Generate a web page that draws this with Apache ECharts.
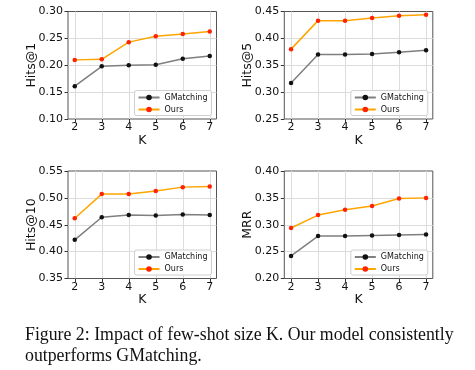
<!DOCTYPE html>
<html><head><meta charset="utf-8">
<script src="https://cdn.jsdelivr.net/npm/echarts@6/dist/echarts.min.js"></script>
<style>html,body{margin:0;padding:0;background:#fff}#c{width:475px;height:370px}</style>
</head><body><div id="c"></div>
<script>
const K = [2, 3, 4, 5, 6, 7];
const seriesNames = ['GMatching', 'Ours'];
const metricNames = ['Hits@1', 'Hits@5', 'Hits@10', 'MRR'];
const yMins = [0.10, 0.25, 0.35, 0.20];
const yMaxs = [0.30, 0.45, 0.55, 0.40];
const yStep = 0.05;
const gmHits1 = [0.161, 0.198, 0.200, 0.201, 0.212, 0.217];
const oursHits1 = [0.210, 0.211, 0.243, 0.254, 0.258, 0.263];
const gmHits5 = [0.317, 0.370, 0.370, 0.371, 0.374, 0.378];
const oursHits5 = [0.380, 0.433, 0.433, 0.438, 0.442, 0.444];
const gmHits10 = [0.422, 0.464, 0.468, 0.467, 0.469, 0.468];
const oursHits10 = [0.462, 0.507, 0.507, 0.513, 0.520, 0.521];
const gmMRR = [0.242, 0.279, 0.279, 0.280, 0.281, 0.282];
const oursMRR = [0.294, 0.318, 0.328, 0.335, 0.349, 0.350];
const captionLine1 = 'Figure 2: Impact of few-shot size K. Our model consistently';
const captionLine2 = 'outperforms GMatching.';

const gmData = [gmHits1, gmHits5, gmHits10, gmMRR];
const oursData = [oursHits1, oursHits5, oursHits10, oursMRR];

// layout
const frames = [
  {left: 68, top: 11.5},
  {left: 284.3, top: 11.5},
  {left: 68, top: 171},
  {left: 284.3, top: 171}
];
const FW = 148.5, FH = 107.5, PAD = 6.75;
const font = 'DejaVu Sans';
const txt = '#111';
const gridC = '#dcdcdc';

const grid = [], xAxis = [], yAxis = [], series = [], legend = [];
frames.forEach((f, i) => {
  grid.push({left: f.left, top: f.top, width: FW, height: FH, show: true,
    borderColor: '#555', borderWidth: 1, backgroundColor: '#fff', z: 0});
  xAxis.push({gridIndex: i, type: 'value', min: 0, max: 1, show: false});
  yAxis.push({gridIndex: i, type: 'value', min: yMins[i], max: yMaxs[i], interval: yStep,
    name: metricNames[i], nameLocation: 'middle', nameGap: 30, nameRotate: 90,
    nameMoveOverlap: false,
    nameTextStyle: {fontFamily: font, fontSize: 12.5, color: txt},
    axisLine: {show: false},
    axisTick: {show: true, inside: false, length: 3.5, lineStyle: {color: '#333'}},
    axisLabel: {fontFamily: font, fontSize: 11, color: txt, margin: 5,
      formatter: v => v.toFixed(2)},
    splitLine: {show: true, showMinLine: false, showMaxLine: false,
      lineStyle: {color: gridC, width: 1}}
  });
});
frames.forEach((f, i) => {
  const gi = 4 + i;
  grid.push({left: f.left + PAD, top: f.top, width: FW - 2 * PAD, height: FH, show: false});
  xAxis.push({gridIndex: gi, type: 'value', min: 2, max: 7, interval: 1,
    name: 'K', nameLocation: 'middle', nameGap: 15, nameMoveOverlap: false,
    nameTextStyle: {fontFamily: font, fontSize: 12.5, color: txt},
    axisLine: {show: false},
    axisTick: {show: true, inside: false, length: 3.5, lineStyle: {color: '#333'}},
    axisLabel: {fontFamily: font, fontSize: 11, color: txt, margin: 3},
    splitLine: {show: true, lineStyle: {color: gridC, width: 1}}
  });
  yAxis.push({gridIndex: gi, type: 'value', min: yMins[i], max: yMaxs[i], show: false});
  series.push({name: seriesNames[0], type: 'line', xAxisIndex: gi, yAxisIndex: gi,
    data: K.map((k, j) => [k, gmData[i][j]]),
    symbol: 'circle', symbolSize: 4.5, showSymbol: true,
    lineStyle: {color: '#7f7f7f', width: 1.5}, itemStyle: {color: '#111'}, z: 3});
  series.push({name: seriesNames[1], type: 'line', xAxisIndex: gi, yAxisIndex: gi,
    data: K.map((k, j) => [k, oursData[i][j]]),
    symbol: 'circle', symbolSize: 4.5, showSymbol: true,
    lineStyle: {color: '#ffa500', width: 1.5}, itemStyle: {color: '#ff2200'}, z: 4});
  legend.push({data: seriesNames, orient: 'vertical',
    right: 475 - (f.left + FW) + 5, bottom: 370 - (f.top + FH) + 3.5,
    itemWidth: 21, itemHeight: 7, itemGap: 4,
    textStyle: {fontFamily: font, fontSize: 8, color: txt},
    borderColor: '#cfcfcf', borderWidth: 1, borderRadius: 2,
    padding: [3, 4, 2, 3], backgroundColor: 'rgba(255,255,255,0.85)',
    selectedMode: false});
});

const chart = echarts.init(document.getElementById('c'), null, {renderer: 'canvas'});
chart.setOption({
  animation: false,
  backgroundColor: '#fff',
  grid, xAxis, yAxis, series, legend,
  graphic: [
    {type: 'text', left: 25, top: 326, style: {text: captionLine1,
      font: '17.8px "Liberation Serif"', fill: '#111'}},
    {type: 'text', left: 25, top: 347, style: {text: captionLine2,
      font: '17.8px "Liberation Serif"', fill: '#111'}}
  ]
});
</script></body></html>
